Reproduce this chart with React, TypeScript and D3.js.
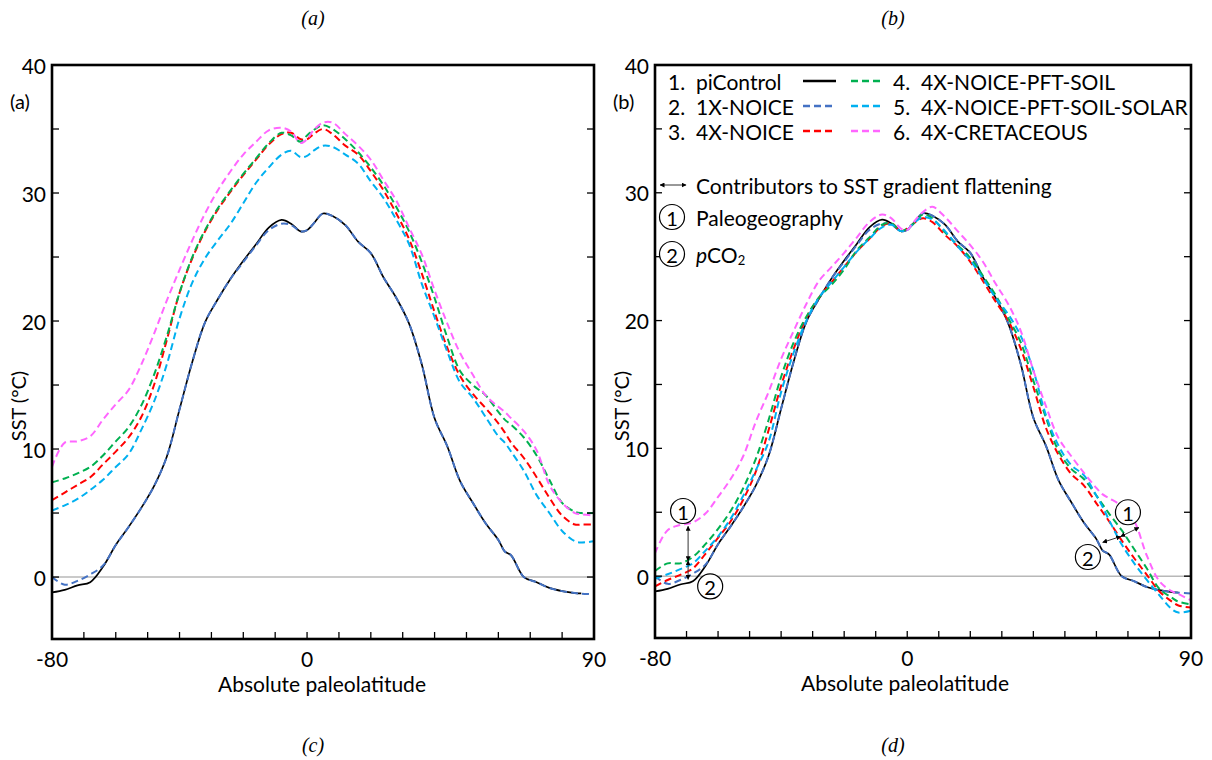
import React from "react";
import * as d3 from "d3";

// ---------------- DATA ----------------
const LAT = [-80, -76, -72, -68, -64, -60, -56, -52, -48, -44, -40, -36, -32, -28, -24, -20, -16, -12, -8, -5, -2, 0, 2, 5, 8, 12, 16, 20, 24, 28, 32, 36, 40, 44, 48, 52, 56, 60, 62, 64, 68, 72, 76, 80, 84, 86, 90];

const PI_CONTROL = [-1.2, -1.0, -0.65, -0.4, 0.8, 2.5, 3.9, 5.4, 7.1, 9.4, 13.1, 16.8, 19.9, 21.7, 23.3, 24.7, 26.0, 27.3, 27.9, 27.6, 27.0, 27.1, 27.6, 28.4, 28.2, 27.5, 26.2, 25.3, 23.4, 21.8, 19.8, 16.6, 12.4, 10.2, 7.5, 5.8, 4.2, 2.9, 2.0, 1.7, 0.0, -0.4, -0.85, -1.1, -1.25, -1.28, null];
const NOICE_1X = [0.0, -0.6, -0.3, 0.2, 0.9, 2.5, 3.9, 5.4, 7.1, 9.4, 13.1, 16.8, 19.9, 21.7, 23.3, 24.6, 25.9, 27.1, 27.6, 27.5, 27.0, 27.1, 27.6, 28.4, 28.2, 27.5, 26.2, 25.3, 23.4, 21.8, 19.8, 16.6, 12.4, 10.2, 7.5, 5.8, 4.2, 2.9, 2.0, 1.7, 0.0, -0.4, -0.85, -1.1, -1.25, -1.3, -1.35];

// panel (a): absolute SST
const NOICE_4X_A = [6.0, 6.6, 7.2, 7.8, 8.8, 9.8, 10.9, 12.5, 15.0, 18.5, 22.2, 24.9, 27.0, 28.7, 30.1, 31.4, 32.6, 33.8, 34.6, 34.7, 34.2, 34.2, 34.6, 35.0, 34.6, 33.7, 33.0, 31.7, 30.2, 28.4, 26.4, 23.7, 20.7, 17.9, 15.7, 14.3, 13.2, 12.0, 11.3, 10.5, 9.3, 7.8, 6.2, 4.8, 4.1, 4.1, 4.1];
const PFT_SOIL_A = [7.4, 7.7, 8.1, 8.6, 9.5, 10.6, 11.7, 13.4, 15.8, 18.8, 22.2, 25.0, 27.1, 28.8, 30.2, 31.5, 32.7, 33.9, 34.7, 34.5, 34.0, 34.5, 34.9, 35.3, 35.0, 34.2, 33.2, 32.0, 30.6, 28.9, 27.0, 24.6, 21.8, 18.7, 16.1, 15.0, 14.2, 12.9, 12.3, 11.9, 10.9, 9.5, 7.6, 5.8, 5.1, 5.0, 5.0];
const SOLAR_A = [5.2, 5.6, 6.1, 6.8, 7.6, 8.6, 9.6, 11.5, 13.7, 16.6, 20.2, 23.0, 24.9, 26.3, 27.6, 29.2, 30.8, 32.0, 33.0, 33.3, 32.8, 32.9, 33.3, 33.7, 33.6, 33.0, 32.3, 30.9, 29.6, 27.9, 26.0, 22.9, 20.3, 17.6, 15.2, 14.0, 12.5, 11.0, 10.5, 9.8, 8.3, 6.4, 5.0, 3.6, 2.8, 2.7, 2.8];
const CRETACEOUS_A = [8.6, 10.5, 10.6, 11.0, 12.3, 13.5, 14.6, 16.6, 19.0, 21.6, 24.0, 26.3, 28.4, 30.2, 31.7, 33.0, 34.0, 34.9, 35.1, 34.8, 33.9, 34.2, 34.9, 35.5, 35.5, 34.6, 33.7, 32.6, 31.0, 29.4, 27.3, 25.2, 22.4, 19.8, 17.5, 15.8, 14.2, 13.3, 12.9, 12.4, 11.4, 9.9, 7.2, 5.8, 5.0, 4.9, 4.8];

// panel (b): adjusted SST
const NOICE_4X_B = [-0.8, -0.3, 0.1, 0.6, 1.75, 3.0, 4.3, 6.0, 8.2, 11.4, 14.9, 17.8, 20.2, 21.8, 23.0, 24.2, 25.4, 26.4, 27.4, 27.6, 27.0, 27.2, 27.6, 28.0, 27.7, 26.7, 25.8, 24.6, 23.1, 21.5, 20.0, 17.8, 14.8, 11.6, 9.5, 8.0, 7.1, 5.7, 5.0, 4.3, 2.8, 1.4, 0.1, -1.2, -2.0, -2.3, -2.45];
const PFT_SOIL_B = [0.4, 1.0, 1.0, 1.5, 2.5, 3.7, 5.1, 6.9, 9.2, 12.2, 15.6, 18.3, 20.3, 21.8, 22.8, 24.0, 25.5, 26.5, 27.5, 27.6, 27.0, 27.2, 27.6, 28.3, 28.0, 26.9, 25.9, 24.9, 23.5, 22.0, 20.2, 18.3, 15.3, 12.4, 9.8, 8.4, 7.6, 6.3, 5.6, 4.9, 3.6, 2.1, 0.6, -1.0, -1.7, -2.0, -2.2];
const SOLAR_B = [-0.2, 0.15, 0.55, 1.0, 2.0, 3.1, 4.5, 6.3, 8.3, 10.5, 14.4, 17.5, 20.0, 21.8, 23.0, 24.2, 25.4, 26.4, 27.3, 27.5, 27.0, 27.1, 27.6, 28.1, 27.9, 27.0, 25.8, 24.7, 23.3, 21.8, 20.5, 18.8, 16.1, 12.6, 10.2, 8.7, 7.9, 6.3, 5.4, 4.4, 2.5, 1.0, -0.3, -1.5, -2.6, -2.85, -2.7];
const CRETACEOUS_B = [1.8, 3.6, 4.0, 4.2, 4.9, 6.2, 7.6, 9.4, 12.1, 14.4, 17.0, 19.2, 21.3, 23.1, 24.2, 25.3, 26.5, 27.7, 28.3, 28.0, 27.2, 27.1, 27.7, 28.5, 28.9, 28.1, 27.0, 25.9, 24.6, 22.9, 21.3, 19.2, 16.1, 13.3, 10.8, 9.4, 8.1, 6.9, 6.4, 6.1, 5.5, 4.3, 1.6, -0.4, -1.2, -1.4, -1.9];

const SERIES_NAMES = ["piControl", "1X-NOICE", "4X-NOICE", "4X-NOICE-PFT-SOIL", "4X-NOICE-PFT-SOIL-SOLAR", "4X-CRETACEOUS"];
const SERIES_COLORS = ["#000000", "#4472C4", "#FF0000", "#00B050", "#00B0F0", "#FF66FF"];
const PANEL_A_VALUES = [PI_CONTROL, NOICE_1X, NOICE_4X_A, PFT_SOIL_A, SOLAR_A, CRETACEOUS_A];
const PANEL_B_VALUES = [PI_CONTROL, NOICE_1X, NOICE_4X_B, PFT_SOIL_B, SOLAR_B, CRETACEOUS_B];

const X_DOMAIN = [-80, 90];
const Y_DOMAIN = [-4.84, 40];
const X_TICK_LABELS = [-80, 0, 90];
const X_MINOR_TICKS = [-70, -60, -50, -40, -30, -20, -10, 0, 10, 20, 30, 40, 50, 60, 70, 80];
const Y_TICK_LABELS = [0, 10, 20, 30, 40];
const Y_MINOR_TICKS = [0, 5, 10, 15, 20, 25, 30, 35];

// annotation anchors in data space (lat, SST)
const ARROWS_SOUTH = [[-69.5, 3.9, -69.5, 1.2], [-69.5, 1.2, -69.5, -0.25]];
const ARROWS_NORTH = [[62.0, 2.65, 67.7, 3.1], [67.7, 3.1, 73.5, 3.8]];
const CIRCLES_SOUTH = [["1", -71.1, 5.1], ["2", -62.5, -0.8]];
const CIRCLES_NORTH = [["1", 70.0, 5.0], ["2", 57.3, 1.5]];

const FONT = "Lato, 'Open Sans', sans-serif";
const SERIF = "'Liberation Serif', 'DejaVu Serif', serif";

type PanelProps = {
  x0: number; x1: number; y0: number; y1: number;
  values: (number | null)[][];
  tag: string; xLabelX: number; yLabelX: number;
  children?: (x: any, y: any) => React.ReactNode;
};

function Panel({ x0, x1, y0, y1, values, tag, xLabelX, yLabelX, children }: PanelProps) {
  const x = d3.scaleLinear().domain(X_DOMAIN).range([x0, x1]);
  const y = d3.scaleLinear().domain(Y_DOMAIN).range([y1, y0]);
  const line = d3
    .line<[number, number | null]>()
    .defined((d) => d[1] !== null)
    .x((d) => x(d[0]))
    .y((d) => y(d[1] as number))
    .curve(d3.curveCatmullRom.alpha(0.5));
  const tick = 7;
  return (
    <g>
      <defs>
        <clipPath id={"clip" + tag}>
          <rect x={x0} y={y0} width={x1 - x0} height={y1 - y0} />
        </clipPath>
      </defs>
      <line x1={x0} x2={x1} y1={y(0)} y2={y(0)} stroke="#b8b8b8" strokeWidth={1.5} />
      <g clipPath={`url(#clip${tag})`}>
        {values.map((vals, i) => {
          const pts = LAT.map((lat, k) => [lat, vals[k]] as [number, number | null]);
          return (
            <path
              key={i}
              d={line(pts) || ""}
              fill="none"
              stroke={SERIES_COLORS[i]}
              strokeWidth={i === 0 ? 1.7 : 2}
              strokeDasharray={i === 0 ? undefined : "7,4"}
              strokeLinejoin="round"
            />
          );
        })}
      </g>
      {X_MINOR_TICKS.map((t) => (
        <line key={"xt" + t} x1={x(t)} x2={x(t)} y1={y1} y2={y1 - tick} stroke="#000" strokeWidth={1.3} />
      ))}
      {Y_MINOR_TICKS.map((t) => (
        <g key={"yt" + t}>
          <line x1={x0} x2={x0 + tick} y1={y(t)} y2={y(t)} stroke="#000" strokeWidth={1.3} />
          <line x1={x1} x2={x1 - tick} y1={y(t)} y2={y(t)} stroke="#000" strokeWidth={1.3} />
        </g>
      ))}
      <rect x={x0} y={y0} width={x1 - x0} height={y1 - y0} fill="none" stroke="#000" strokeWidth={2.6} />
      {Y_TICK_LABELS.map((t) => (
        <text key={"yl" + t} x={x0 - 6} y={y(t)} textAnchor="end" dominantBaseline="central" fontFamily={FONT} fontSize={21}>
          {t}
        </text>
      ))}
      {X_TICK_LABELS.map((t) => (
        <text key={"xl" + t} x={x(t)} y={y1 + 19} textAnchor="middle" dominantBaseline="central" fontFamily={FONT} fontSize={21}>
          {t}
        </text>
      ))}
      <text x={xLabelX} y={y1 + 44} textAnchor="middle" dominantBaseline="central" fontFamily={FONT} fontSize={21}>
        Absolute paleolatitude
      </text>
      <text
        transform={`translate(${yLabelX},406) rotate(-90)`}
        textAnchor="middle"
        dominantBaseline="central"
        fontFamily={FONT}
        fontSize={20}
      >
        SST (°C)
      </text>
      <text x={x0 - 42} y={y(37.2)} dominantBaseline="central" fontFamily={FONT} fontSize={20}>
        ({tag})
      </text>
      {children ? children(x, y) : null}
    </g>
  );
}

function Circled({ cx, cy, label }: { cx: number; cy: number; label: string }) {
  return (
    <g>
      <circle cx={cx} cy={cy} r={12.5} fill="#fff" stroke="#000" strokeWidth={1.2} />
      <text x={cx} y={cy + 1} textAnchor="middle" dominantBaseline="central" fontFamily={FONT} fontSize={20}>
        {label}
      </text>
    </g>
  );
}

function Annotations(x: any, y: any) {
  const arrows = [...ARROWS_SOUTH, ...ARROWS_NORTH];
  const circles = [...CIRCLES_SOUTH, ...CIRCLES_NORTH];
  return (
    <g>
      {arrows.map((a, i) => (
        <line
          key={"ar" + i}
          x1={x(a[0])}
          y1={y(a[1])}
          x2={x(a[2])}
          y2={y(a[3])}
          stroke="#333"
          strokeWidth={1}
          markerStart="url(#ah)"
          markerEnd="url(#ah)"
        />
      ))}
      {circles.map((c, i) => (
        <Circled key={"c" + i} cx={x(c[1] as number)} cy={y(c[2] as number)} label={c[0] as string} />
      ))}
    </g>
  );
}

function Legend() {
  const rowY = [81, 106, 131];
  return (
    <g fontFamily={FONT} fontSize={21}>
      {SERIES_NAMES.map((name, i) => {
        const col = i < 3 ? 0 : 1;
        const yy = rowY[i % 3];
        const c = SERIES_COLORS[i];
        const dash = i === 0 ? undefined : "7,4";
        if (col === 0) {
          return (
            <g key={name}>
              <text x={668} y={yy} dominantBaseline="central">{i + 1 + "."}</text>
              <text x={696} y={yy} dominantBaseline="central">{name}</text>
              <line x1={803} x2={836} y1={yy} y2={yy} stroke={c} strokeWidth={2.5} strokeDasharray={dash} />
            </g>
          );
        }
        return (
          <g key={name}>
            <line x1={851} x2={884} y1={yy} y2={yy} stroke={c} strokeWidth={2.5} strokeDasharray={dash} />
            <text x={893} y={yy} dominantBaseline="central">{i + 1 + "."}</text>
            <text x={921} y={yy} dominantBaseline="central">{name}</text>
          </g>
        );
      })}
      <line x1={660} x2={686} y1={185} y2={185} stroke="#333" strokeWidth={1} markerStart="url(#ah)" markerEnd="url(#ah)" />
      <text x={696} y={185} dominantBaseline="central">Contributors to SST gradient flattening</text>
      <Circled cx={672} cy={217} label="1" />
      <text x={696} y={217} dominantBaseline="central">Paleogeography</text>
      <Circled cx={672} cy={254} label="2" />
      <text x={696} y={254} dominantBaseline="central">
        <tspan fontStyle="italic">p</tspan>CO
        <tspan fontSize={13} dy={6}>2</tspan>
      </text>
    </g>
  );
}

export default function App() {
  return (
    <svg width={1212} height={760} style={{ display: "block", position: "absolute", left: 0, top: 0 }}>
      <defs>
        <marker id="ah" viewBox="0 0 10 10" refX="9" refY="5" markerWidth="5" markerHeight="5" orient="auto-start-reverse">
          <path d="M0,0 L10,5 L0,10 z" fill="#000" />
        </marker>
      </defs>
      <rect x={0} y={0} width={1212} height={760} fill="#fff" />
      <Panel x0={52} x1={594} y0={65} y1={639} values={PANEL_A_VALUES} tag="a" xLabelX={322} yLabelX={18} />
      <Panel x0={655} x1={1191} y0={65} y1={638} values={PANEL_B_VALUES} tag="b" xLabelX={905} yLabelX={621}>
        {(x, y) => Annotations(x, y)}
      </Panel>
      <Legend />
      {[["(a)", 313, 18], ["(b)", 893, 18], ["(c)", 313, 745], ["(d)", 893, 745]].map((t) => (
        <text key={t[0] as string} x={t[1] as number} y={t[2] as number} textAnchor="middle" dominantBaseline="central" fontFamily={SERIF} fontStyle="italic" fontSize={20}>
          {t[0]}
        </text>
      ))}
    </svg>
  );
}
